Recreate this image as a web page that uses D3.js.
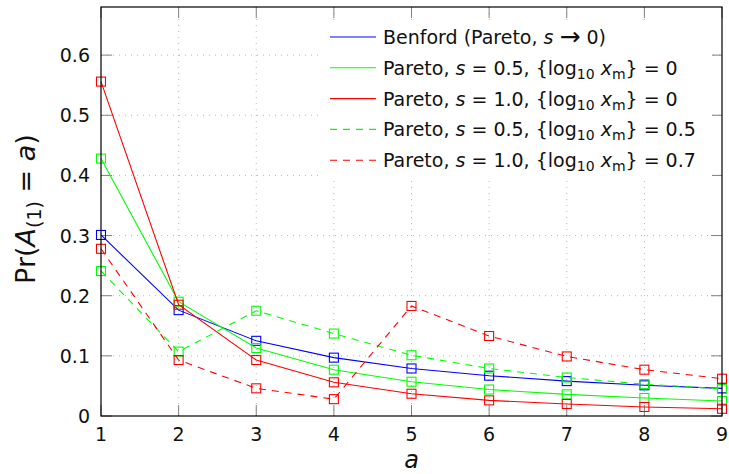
<!DOCTYPE html>
<html>
<head>
<meta charset="utf-8">
<script src="https://cdn.jsdelivr.net/npm/d3@7"></script>
<style>
  body { margin: 0; background: #fff; }
  svg text { font-family: "DejaVu Sans", sans-serif; fill: #111; }
</style>
</head>
<body>
<div id="chart"></div>
<script>
// first digit values
var digits = [1, 2, 3, 4, 5, 6, 7, 8, 9];

var benford     = [0.301, 0.176, 0.125, 0.097, 0.079, 0.067, 0.058, 0.051, 0.046];
var pareto05    = [0.428, 0.190, 0.113, 0.077, 0.057, 0.044, 0.036, 0.030, 0.025];
var pareto10    = [0.556, 0.185, 0.093, 0.056, 0.037, 0.026, 0.020, 0.015, 0.012];
var pareto05off = [0.241, 0.107, 0.175, 0.137, 0.101, 0.079, 0.064, 0.053, 0.045];
var pareto10off = [0.278, 0.093, 0.046, 0.028, 0.183, 0.133, 0.099, 0.077, 0.062];

var yTicks = [0, 0.1, 0.2, 0.3, 0.4, 0.5, 0.6];

var series = [
    { values: benford,     color: "#0000ff", dash: null },
    { values: pareto05,    color: "#00ff00", dash: null },
    { values: pareto10,    color: "#ff0000", dash: null },
    { values: pareto05off, color: "#00ff00", dash: "7,6" },
    { values: pareto10off, color: "#ff0000", dash: "7,6" }
];

var width = 729, height = 474;
var margin = { top: 7, right: 7, bottom: 58, left: 101 };

var svg = d3.select("#chart")
    .append("svg")
    .attr("width", width)
    .attr("height", height);

var x = d3.scaleLinear()
    .domain([1, 9])
    .range([margin.left, width - margin.right]);

var y = d3.scaleLinear()
    .domain([0, 0.68])
    .range([height - margin.bottom, margin.top]);

var x0 = x.range()[0], x1 = x.range()[1];
var y0 = y.range()[0], y1 = y.range()[1];

// grid
var grid = svg.append("g")
    .attr("stroke", "#b8b8b8")
    .attr("stroke-width", 1)
    .attr("stroke-dasharray", "1,5");

grid.selectAll(".gx")
    .data(digits.slice(1, -1))
    .enter().append("line")
    .attr("x1", d => x(d)).attr("x2", d => x(d))
    .attr("y1", y0).attr("y2", y1);

grid.selectAll(".gy")
    .data(yTicks.slice(1))
    .enter().append("line")
    .attr("x1", x0).attr("x2", x1)
    .attr("y1", d => y(d)).attr("y2", d => y(d));

// ticks pointing inward on all four sides
var tickLen = 11;
var ticks = svg.append("g")
    .attr("stroke", "#808080")
    .attr("stroke-width", 1);

digits.forEach(function (d) {
    ticks.append("line").attr("x1", x(d)).attr("x2", x(d)).attr("y1", y0).attr("y2", y0 - tickLen);
    ticks.append("line").attr("x1", x(d)).attr("x2", x(d)).attr("y1", y1).attr("y2", y1 + tickLen);
});
yTicks.forEach(function (d) {
    ticks.append("line").attr("x1", x0).attr("x2", x0 + tickLen).attr("y1", y(d)).attr("y2", y(d));
    ticks.append("line").attr("x1", x1).attr("x2", x1 - tickLen).attr("y1", y(d)).attr("y2", y(d));
});

// tick labels
svg.append("g").selectAll("text")
    .data(digits)
    .enter().append("text")
    .attr("x", d => x(d))
    .attr("y", 441)
    .attr("text-anchor", "middle")
    .attr("font-size", 19)
    .text(d => d);

svg.append("g").selectAll("text")
    .data(yTicks)
    .enter().append("text")
    .attr("x", x0 - 11)
    .attr("y", d => y(d) + 7)
    .attr("text-anchor", "end")
    .attr("font-size", 19)
    .text(d => d === 0 ? "0" : d3.format(".1f")(d));

// legend background (drawn before lines so the frame is intact)
svg.append("rect")
    .attr("x", 320).attr("y", 20)
    .attr("width", 392).attr("height", 160)
    .attr("fill", "#fff");

// lines + markers
var line = d3.line()
    .x((d, i) => x(digits[i]))
    .y(d => y(d));

var ms = 9;
series.forEach(function (s) {
    var g = svg.append("g");
    g.append("path")
        .datum(s.values)
        .attr("d", line)
        .attr("fill", "none")
        .attr("stroke", s.color)
        .attr("stroke-width", 1.1)
        .attr("stroke-dasharray", s.dash);
    g.selectAll("rect")
        .data(s.values)
        .enter().append("rect")
        .attr("x", (d, i) => x(digits[i]) - ms / 2)
        .attr("y", d => y(d) - ms / 2)
        .attr("width", ms).attr("height", ms)
        .attr("fill", "none")
        .attr("stroke", s.color)
        .attr("stroke-width", 1.1);
});

// frame
svg.append("rect")
    .attr("x", x0).attr("y", y1)
    .attr("width", x1 - x0).attr("height", y0 - y1)
    .attr("fill", "none")
    .attr("stroke", "#000")
    .attr("stroke-width", 1.2);

// legend
var legendRows = [
    [["Benford (Pareto, "], ["s", "it"], [" "], ["\u2192", "big"], [" 0)"]],
    [["Pareto, "], ["s", "it"], [" = 0.5, {log"], ["10", "sub"], [" "], ["x", "it"], ["m", "sub"], ["} = 0"]],
    [["Pareto, "], ["s", "it"], [" = 1.0, {log"], ["10", "sub"], [" "], ["x", "it"], ["m", "sub"], ["} = 0"]],
    [["Pareto, "], ["s", "it"], [" = 0.5, {log"], ["10", "sub"], [" "], ["x", "it"], ["m", "sub"], ["} = 0.5"]],
    [["Pareto, "], ["s", "it"], [" = 1.0, {log"], ["10", "sub"], [" "], ["x", "it"], ["m", "sub"], ["} = 0.7"]]
];

var legend = svg.append("g");
series.forEach(function (s, i) {
    var cy = 37 + i * 30.8;
    legend.append("line")
        .attr("x1", 330).attr("x2", 376)
        .attr("y1", cy).attr("y2", cy)
        .attr("stroke", s.color)
        .attr("stroke-width", 1.1)
        .attr("stroke-dasharray", s.dash);
    var t = legend.append("text")
        .attr("x", 383)
        .attr("y", cy + 7)
        .attr("font-size", 19);
    var shifted = false;
    legendRows[i].forEach(function (p) {
        var ts = t.append("tspan").text(p[0]);
        if (p[1] === "it") ts.attr("font-style", "italic");
        if (p[1] === "big") ts.attr("font-size", 25).attr("dy", 1);
        if (p[1] === "sub") {
            ts.attr("font-size", 14).attr("dy", 4);
            shifted = true;
        } else if (shifted) {
            ts.attr("dy", -4);
            shifted = false;
        }
        if (p[1] === undefined && p[0] === " 0)") ts.attr("dy", -1);
    });
});

// axis titles
var yl = svg.append("text")
    .attr("transform", "translate(35,209) rotate(-90)")
    .attr("text-anchor", "middle")
    .attr("font-size", 27);
yl.append("tspan").text("Pr(");
yl.append("tspan").attr("font-style", "italic").text("A");
yl.append("tspan").attr("font-size", 19).attr("dy", 6).text("(1)");
yl.append("tspan").attr("dy", -6).text(" = ");
yl.append("tspan").attr("font-style", "italic").text("a");
yl.append("tspan").text(")");

svg.append("text")
    .attr("x", (x0 + x1) / 2)
    .attr("y", 468)
    .attr("text-anchor", "middle")
    .attr("font-size", 24)
    .attr("font-style", "italic")
    .text("a");
</script>
</body>
</html>
